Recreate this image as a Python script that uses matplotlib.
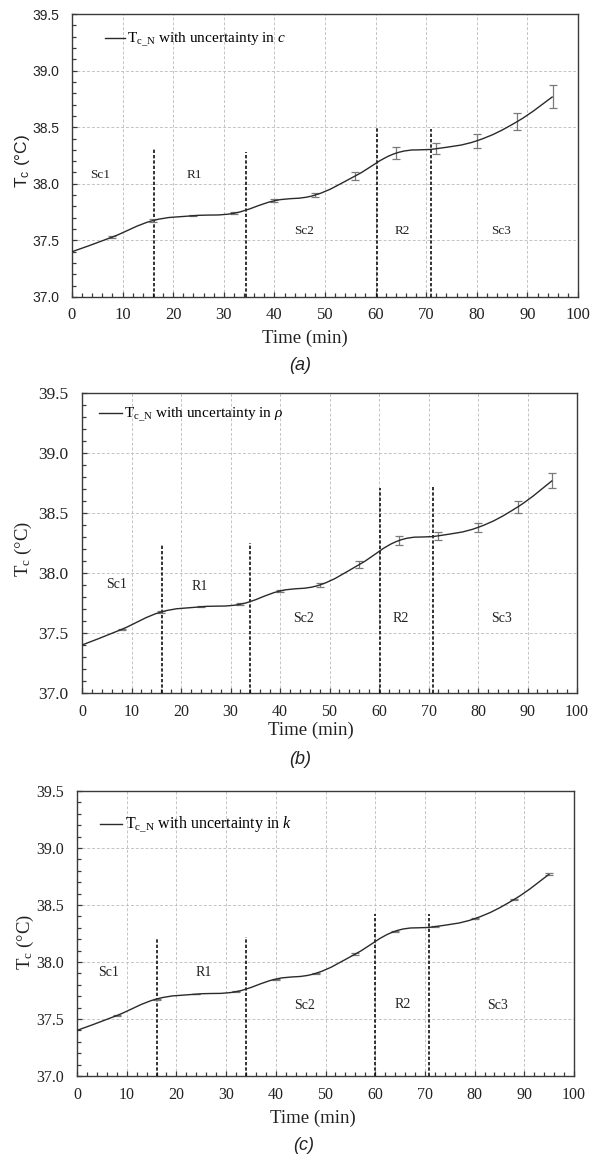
import matplotlib
matplotlib.use("Agg")
import matplotlib.pyplot as plt
from matplotlib.path import Path
from matplotlib.patches import PathPatch
from matplotlib.lines import Line2D
from matplotlib.ticker import MultipleLocator
from matplotlib.font_manager import FontProperties

plt.rcParams["mathtext.fontset"] = "custom"
plt.rcParams["mathtext.rm"] = "Liberation Serif"
plt.rcParams["mathtext.it"] = "Liberation Serif:italic"
plt.rcParams["mathtext.sf"] = "Liberation Sans"

# Nominal core temperature and the half-widths of its uncertainty band
time_min = [0, 8, 16, 24, 32, 40, 48, 56, 64, 72, 80, 88, 95]
tc_n = [37.40, 37.53, 37.675, 37.718, 37.74, 37.85, 37.90, 38.07, 38.27, 38.31, 38.38, 38.55, 38.77]
err_c = [0.0, 0.005, 0.012, 0.005, 0.008, 0.012, 0.018, 0.035, 0.055, 0.05, 0.06, 0.075, 0.10]
err_rho = [0.0, 0.005, 0.006, 0.005, 0.006, 0.01, 0.015, 0.03, 0.04, 0.035, 0.04, 0.05, 0.065]
err_k = [0.0, 0.003, 0.004, 0.003, 0.004, 0.004, 0.005, 0.005, 0.005, 0.005, 0.006, 0.007, 0.008]

# Phase boundaries (min) and how high each boundary marker reaches
bounds_a = [16.3, 34.3, 60.2, 71.0]
tops_a = [38.32, 38.28, 38.49, 38.48]
bounds_b = [16.2, 33.9, 60.2, 70.9]
tops_b = [38.23, 38.25, 38.71, 38.73]
bounds_c = [16.1, 34.1, 60.0, 70.8]
tops_c = [38.21, 38.22, 38.42, 38.42]

phase_names = ["Sc1", "R1", "Sc2", "R2", "Sc3"]
phase_x_a = [5.5, 24.2, 45.9, 65.3, 84.7]
phase_y_a = [38.08, 38.08, 37.58, 37.58, 37.58]
phase_x_b = [6.9, 23.7, 44.7, 64.4, 84.8]
phase_y_b = [37.90, 37.89, 37.625, 37.625, 37.625]
phase_x_c = [6.4, 25.4, 45.7, 65.5, 84.7]
phase_y_c = [37.905, 37.91, 37.62, 37.63, 37.62]

props = ["c", "ρ", "k"]
captions = ["(a)", "(b)", "(c)"]

W, H = 592, 1159
fig = plt.figure(figsize=(W / 100, H / 100), dpi=100)

SERIF = "Liberation Serif"
SANS = "Liberation Sans"


def smooth_path(xs, ys, t=0.2):
    """Cubic Bezier path through the points (spreadsheet-style smoothed line)."""
    n = len(xs)
    verts = [(xs[0], ys[0])]
    codes = [Path.MOVETO]
    for i in range(n - 1):
        x0, y0 = (xs[i - 1], ys[i - 1]) if i > 0 else (xs[i], ys[i])
        x3, y3 = (xs[i + 2], ys[i + 2]) if i + 2 < n else (xs[i + 1], ys[i + 1])
        c1 = (xs[i] + (xs[i + 1] - x0) * t, ys[i] + (ys[i + 1] - y0) * t)
        c2 = (xs[i + 1] - (x3 - xs[i]) * t, ys[i + 1] - (y3 - ys[i]) * t)
        verts += [c1, c2, (xs[i + 1], ys[i + 1])]
        codes += [Path.CURVE4] * 3
    return Path(verts, codes)


panels = [
    dict(box=(72, 14, 578, 297), err=err_c, bounds=bounds_a, tops=tops_a,
         px=phase_x_a, py=phase_y_a, tick_family_y=SANS, ytick_size=10, xtick_size=12,
         ypad=9.0, xpad=7.0, leg=(0.065, 0.908), leg_size=11, leg_hl=1.3,
         ylab=(23, 161, SANS, 12.5), xlab=(305, 338, 13.5), cap=(300, 365),
         phase_size=9.5),
    dict(box=(82, 393, 577, 693), err=err_rho, bounds=bounds_b, tops=tops_b,
         px=phase_x_b, py=phase_y_b, tick_family_y=SERIF, ytick_size=12.5, xtick_size=11.5,
         ypad=10.0, xpad=8.0, leg=(0.034, 0.928), leg_size=11, leg_hl=1.5,
         ylab=(23, 549, SERIF, 13.5), xlab=(311, 730, 13.5), cap=(300, 760),
         phase_size=10),
    dict(box=(77, 791, 574, 1076), err=err_k, bounds=bounds_c, tops=tops_c,
         px=phase_x_c, py=phase_y_c, tick_family_y=SERIF, ytick_size=11.5, xtick_size=11.5,
         ypad=9.5, xpad=8.0, leg=(0.046, 0.88), leg_size=11.5, leg_hl=1.4,
         ylab=(25, 942, SERIF, 13.5), xlab=(313, 1118, 13.5), cap=(304, 1145),
         phase_size=10),
]

for k, p in enumerate(panels):
    l, t, r, b = p["box"]
    ax = fig.add_axes([l / W, 1 - b / H, (r - l) / W, (b - t) / H])
    ax.set_xlim(0, 100)
    ax.set_ylim(37.0, 39.5)
    ax.xaxis.set_major_locator(MultipleLocator(10))
    ax.xaxis.set_minor_locator(MultipleLocator(2))
    ax.yaxis.set_major_locator(MultipleLocator(0.5))
    ax.yaxis.set_minor_locator(MultipleLocator(0.1))
    ax.yaxis.set_major_formatter(matplotlib.ticker.FormatStrFormatter("%.1f"))
    ax.grid(True, which="major", color="#c4c4c4", linewidth=0.7,
            linestyle=(0, (3, 2)))
    ax.set_axisbelow(True)
    for s in ax.spines.values():
        s.set_color("#3a3a3a")
        s.set_linewidth(1.0)
    ax.tick_params(which="both", direction="in", color="#3a3a3a", top=False, right=False)
    ax.tick_params(which="major", length=3.5, width=0.9)
    ax.tick_params(which="minor", length=2.6, width=0.9)
    ax.tick_params(axis="y", which="major", pad=p["ypad"], labelsize=p["ytick_size"])
    ax.tick_params(axis="x", which="major", pad=p["xpad"], labelsize=p["xtick_size"])
    for lab in ax.get_yticklabels():
        lab.set_fontfamily(p["tick_family_y"])
        lab.set_color("#222222")
    for lab in ax.get_xticklabels():
        lab.set_fontfamily(SERIF)
        lab.set_color("#222222")

    # phase boundaries
    ax.vlines(p["bounds"], 37.0, p["tops"], colors="#111111", linewidth=1.2,
              linestyles=(0, (2.0, 1.2)), zorder=3)

    # phase names
    for name, x, y in zip(phase_names, p["px"], p["py"]):
        ax.text(x, y, name, ha="center", va="center", family=SERIF,
                fontsize=p["phase_size"], color="#222222")

    # error bars
    ax.errorbar(time_min[1:], tc_n[1:], yerr=p["err"][1:], fmt="none",
                ecolor="#7a7a7a", elinewidth=0.9, capsize=2.6, capthick=0.9, zorder=4)

    # smoothed nominal curve
    patch = PathPatch(smooth_path(time_min, tc_n), facecolor="none",
                      edgecolor="#2a2a2a", linewidth=1.0, zorder=5)
    ax.add_patch(patch)

    label = r"T$_{\mathrm{c\_N}}$ with uncertainty in $\mathit{" + props[k] + "}$"
    handle = Line2D([], [], color="#2a2a2a", linewidth=1.0)
    ax.legend([handle], [label], loc="center left", bbox_to_anchor=p["leg"],
              frameon=False, borderpad=0, borderaxespad=0,
              handlelength=p["leg_hl"], handletextpad=0.15,
              prop=FontProperties(family=SERIF, size=p["leg_size"]))

    yx, yy, yfam, ysz = p["ylab"]
    if yfam == SANS:
        ylabel = r"$\mathsf{T}_{\mathsf{c}}$ (°C)"
    else:
        ylabel = r"T$_{\mathrm{c}}$ (°C)"
    fig.text(yx / W, 1 - yy / H, ylabel, rotation=90, ha="center", va="center",
             family=yfam, fontsize=ysz, color="#222222")

    xx, xy, xsz = p["xlab"]
    fig.text(xx / W, 1 - xy / H, "Time (min)", ha="center", va="center",
             family=SERIF, fontsize=xsz, color="#222222")
    cx, cy = p["cap"]
    fig.text(cx / W, 1 - cy / H, captions[k], ha="center", va="center",
             family=SANS, style="italic", fontsize=13, color="#222222")

fig.savefig("out.png", dpi=100)
